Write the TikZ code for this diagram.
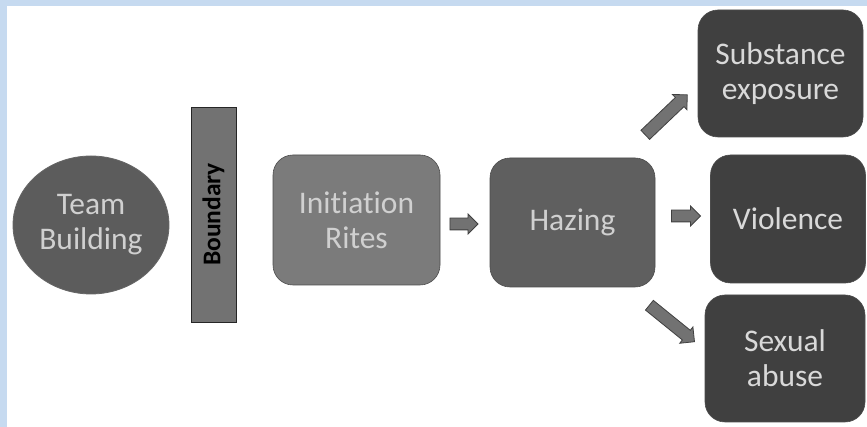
\documentclass[tikz,border=0pt]{standalone}
\usepackage{fontspec}
\setmainfont[Ligatures=NoCommon]{Carlito}
\usetikzlibrary{shapes.arrows,shapes.geometric}
\definecolor{frameblue}{HTML}{C6DAF0}
\definecolor{gA}{HTML}{5C5C5C}
\definecolor{gB}{HTML}{727272}
\definecolor{gC}{HTML}{7B7B7B}
\definecolor{gD}{HTML}{5F5F5F}
\definecolor{gE}{HTML}{404040}
\definecolor{txt}{HTML}{D0D0D0}
\begin{document}
\begin{tikzpicture}[x=1pt,y=1pt,
  box/.style={draw=black!70,line width=0.6pt,rounded corners=20pt,inner sep=0pt,
    align=center,text=txt,font=\fontsize{31.5}{35}\selectfont},
  barrow/.style={single arrow,draw=black!75,fill=gB,line width=0.8pt,inner xsep=0pt,
    inner ysep=5.5pt,single arrow head extend=4pt,single arrow tip angle=90,
    anchor=center}]
\useasboundingbox (0,0) rectangle (867,427);
\fill[white] (0,0) rectangle (867,427);
\fill[frameblue] (0,0) rectangle (7,427);
\fill[frameblue] (0,421) rectangle (867,427);
% nodes
\node[ellipse,draw=black!60,fill=gA,line width=0.8pt,minimum width=156pt,minimum height=138pt,
  inner sep=0pt,align=center,text=txt,font=\fontsize{31.5}{35}\selectfont] (team) at (91,202) {Team\\Building};
\node[draw=black!85,fill=gB,line width=0.8pt,minimum width=45pt,minimum height=215pt,inner sep=0pt] (bound) at (213.5,212.5) {};
\node[rotate=90,font=\fontsize{25.5}{28}\selectfont\bfseries,text=black] (bt) at (bound.center) {Boundary};
\node[box,fill=gC,minimum width=167pt,minimum height=130pt] (init) at (356.5,207) {Initiation\\Rites};
\node[box,fill=gD,minimum width=165pt,minimum height=129pt] (haz) at (572.5,204.5) {Hazing};
\node[box,fill=gE,minimum width=165pt,minimum height=127pt,text=white!85!black] (sub) at (780.5,353.5) {Substance\\exposure};
\node[box,fill=gE,minimum width=155pt,minimum height=128pt,text=white!85!black] (vio) at (788,208) {Violence};
\node[box,fill=gE,minimum width=160pt,minimum height=127pt,text=white!85!black] (sex) at (785,68.5) {Sexual\\abuse};
% arrows
\node[barrow,minimum height=28pt,minimum width=18pt] (a1) at (461,203) {};
\node[barrow,minimum height=58pt,minimum width=21pt,rotate=43.6] (a2) at (664,310) {};
\node[barrow,minimum height=29pt,minimum width=17pt] (a3) at (683,211) {};
\node[barrow,minimum height=58pt,minimum width=21pt,rotate=-39] (a4) at (669.5,105.5) {};
\end{tikzpicture}
\end{document}
